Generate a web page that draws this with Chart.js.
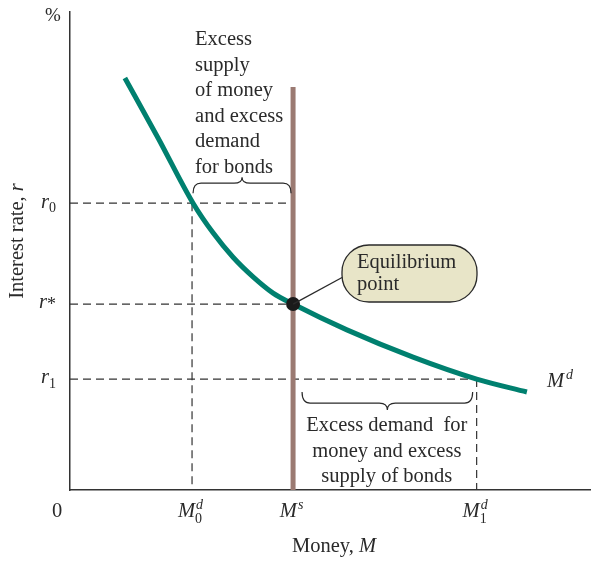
<!DOCTYPE html>
<html>
<head>
<meta charset="utf-8">
<script src="https://cdn.jsdelivr.net/npm/chart.js@4.4.0/dist/chart.umd.min.js"></script>
<style>
  html, body { margin: 0; padding: 0; background: #fff; overflow: hidden; }
  canvas { display: block; }
</style>
</head>
<body>
<canvas id="c" width="591" height="561"></canvas>
<script>
// ── Datos (unidades del gráfico, 0-100) ──
const xTickValues = [0, 23.8, 43.5, 79.3];       // 0, M0d, Ms, M1d
const xTickMain   = ['0', 'M', 'M', 'M'];
const xTickSup    = ['', 'd', 's', 'd'];
const xTickSub    = ['', '0', '', '1'];

const yTickValues = [60.0, 38.9, 23.2];          // r0, r*, r1
const yTickMain   = ['r', 'r', 'r'];
const yTickSuffix = ['0', '*', '1'];

// curva de demanda de dinero Md
const demandX = [10.7, 17.2, 24.0, 27.9, 31.8, 35.7, 39.6, 43.5, 54.0, 66.9, 79.3, 89.1];
const demandY = [86.2, 73.6, 60.0, 53.8, 48.7, 44.6, 41.2, 38.9, 33.5, 27.8, 23.2, 20.5];

// oferta de dinero Ms (vertical)
const supplyX = [43.5, 43.5];
const supplyY = [0, 84.3];

const FONT = '"Liberation Serif", "Times New Roman", serif';
const INK = '#2a2a2a';
const TEAL = '#00806f';
const BROWN = '#9b7a72';
const TXT = 20.5;

const pts = (xs, ys) => xs.map((x, i) => ({ x, y: ys[i] }));

const dashed = (data) => ({
  data, showLine: true, pointRadius: 0, borderColor: '#333',
  borderWidth: 1.2, borderDash: [8, 5], order: 6
});

const datasets = [
  // guías punteadas
  dashed([{ x: 0, y: yTickValues[0] }, { x: xTickValues[2], y: yTickValues[0] }]),
  dashed([{ x: xTickValues[1], y: yTickValues[0] }, { x: xTickValues[1], y: 0 }]),
  dashed([{ x: 0, y: yTickValues[1] }, { x: xTickValues[2], y: yTickValues[1] }]),
  dashed([{ x: 0, y: yTickValues[2] }, { x: xTickValues[3], y: yTickValues[2] }]),
  dashed([{ x: xTickValues[3], y: yTickValues[2] }, { x: xTickValues[3], y: 0 }]),
  {
    data: pts(supplyX, supplyY), showLine: true, pointRadius: 0,
    borderColor: BROWN, borderWidth: 5, order: 4
  },
  {
    data: pts(demandX, demandY), showLine: true, pointRadius: 0,
    borderColor: TEAL, borderWidth: 5, cubicInterpolationMode: 'monotone',
    borderCapStyle: 'butt', order: 3
  },
  {
    data: [{ x: xTickValues[2], y: yTickValues[1] }], pointRadius: 7,
    pointBackgroundColor: '#1a1a1a', pointBorderWidth: 0, order: 1
  }
];

function font(size, italic) {
  return (italic ? 'italic ' : '') + size + 'px ' + FONT;
}

// texto con estilos mezclados: [[texto, italic], ...]
function runs(ctx, parts, x, y, size, align) {
  let total = 0;
  parts.forEach(p => { ctx.font = font(size, p[1]); total += ctx.measureText(p[0]).width; });
  let cx = align === 'center' ? x - total / 2 : x;
  ctx.textAlign = 'left';
  ctx.textBaseline = 'middle';
  parts.forEach(p => {
    ctx.font = font(size, p[1]);
    ctx.fillText(p[0], cx, y);
    cx += ctx.measureText(p[0]).width;
  });
}

function lines(ctx, arr, x, y0, step, size, align) {
  ctx.font = font(size, false);
  ctx.textAlign = align;
  ctx.textBaseline = 'middle';
  arr.forEach((s, i) => ctx.fillText(s, x, y0 + i * step));
}

// llave horizontal (tips, cuerpo, pico)
function brace(ctx, x1, x2, yTip, yBody, yCusp) {
  const xm = (x1 + x2) / 2, r = 8;
  ctx.beginPath();
  ctx.moveTo(x1, yTip);
  ctx.quadraticCurveTo(x1, yBody, x1 + r, yBody);
  ctx.lineTo(xm - r, yBody);
  ctx.quadraticCurveTo(xm, yBody, xm, yCusp);
  ctx.quadraticCurveTo(xm, yBody, xm + r, yBody);
  ctx.lineTo(x2 - r, yBody);
  ctx.quadraticCurveTo(x2, yBody, x2, yTip);
  ctx.stroke();
}

const annotations = {
  id: 'annotations',
  afterDraw(chart) {
    const { ctx, scales: { x, y } } = chart;
    ctx.save();
    ctx.fillStyle = INK;
    ctx.strokeStyle = INK;

    // etiquetas eje x
    xTickValues.forEach((v, i) => {
      const px = x.getPixelForValue(v);
      const py = y.getPixelForValue(0) + 22;
      const italic = xTickMain[i] !== '0';
      ctx.font = font(TXT, italic);
      const wm = ctx.measureText(xTickMain[i]).width;
      ctx.font = font(14, true);
      const ws = Math.max(ctx.measureText(xTickSup[i]).width, ctx.measureText(xTickSub[i]).width);
      let sx = px - (wm + ws) / 2 - (i === 0 ? 13 : 2);
      ctx.textAlign = 'left';
      ctx.textBaseline = 'middle';
      ctx.font = font(TXT, italic);
      ctx.fillText(xTickMain[i], sx, py);
      ctx.font = font(14, true);
      ctx.fillText(xTickSup[i], sx + wm + 1, py - 7);
      ctx.font = font(14, false);
      ctx.fillText(xTickSub[i], sx + wm, py + 7);
    });

    // etiquetas eje y
    yTickValues.forEach((v, i) => {
      const py = y.getPixelForValue(v);
      const right = x.getPixelForValue(0) - 14;
      const suf = yTickSuffix[i];
      const sz = suf === '*' ? 18 : 14;
      ctx.font = font(sz, false);
      const ws = ctx.measureText(suf).width;
      ctx.textAlign = 'left';
      ctx.textBaseline = 'middle';
      ctx.fillText(suf, right - ws, suf === '*' ? py + 1 : py + 5);
      ctx.font = font(TXT, true);
      const wm = ctx.measureText(yTickMain[i]).width;
      ctx.fillText(yTickMain[i], right - ws - wm, py - 1);
    });

    // títulos de ejes
    runs(ctx, [['%', false]], 45, 16, 19, 'left');
    runs(ctx, [['Money, ', false], ['M', true]], 334, 547, TXT, 'center');
    ctx.save();
    ctx.translate(18, 241);
    ctx.rotate(-Math.PI / 2);
    runs(ctx, [['Interest rate, ', false], ['r', true]], 0, 0, TXT, 'center');
    ctx.restore();

    // etiqueta Md
    const lx = x.getPixelForValue(demandX[demandX.length - 1]) + 20;
    const ly = y.getPixelForValue(demandY[demandY.length - 1]) - 10;
    ctx.font = font(TXT, true);
    ctx.textAlign = 'left';
    ctx.fillText('M', lx, ly);
    ctx.font = font(14, true);
    ctx.fillText('d', lx + 19, ly - 7);

    // bloque superior
    const m0 = x.getPixelForValue(xTickValues[1]);
    const ms = x.getPixelForValue(xTickValues[2]);
    const m1 = x.getPixelForValue(xTickValues[3]);
    const r0 = y.getPixelForValue(yTickValues[0]);
    const r1 = y.getPixelForValue(yTickValues[2]);
    lines(ctx, ['Excess', 'supply', 'of money', 'and excess', 'demand', 'for bonds'],
      m0 + 3, 40, 25.5, TXT, 'left');
    ctx.lineWidth = 1.2;
    brace(ctx, m0 + 1, ms - 2, r0 - 10, r0 - 20, r0 - 26);

    // bloque inferior
    brace(ctx, ms + 9, m1 - 4, r1 + 13, r1 + 24, r1 + 31);
    lines(ctx, ['Excess demand  for', 'money and excess', 'supply of bonds'],
      (ms + m1) / 2 + 2, 426, 25.5, TXT, 'center');

    // globo "Equilibrium point"
    const ex = x.getPixelForValue(xTickValues[2]);
    const ey = y.getPixelForValue(yTickValues[1]);
    ctx.lineWidth = 1.3;
    ctx.beginPath();
    ctx.moveTo(ex, ey);
    ctx.lineTo(343, 277);
    ctx.stroke();
    ctx.beginPath();
    ctx.roundRect(342, 245, 135, 57, 27);
    ctx.fillStyle = '#e8e5c8';
    ctx.fill();
    ctx.stroke();
    ctx.fillStyle = INK;
    lines(ctx, ['Equilibrium', 'point'], 357, 263, 22, TXT, 'left');

    ctx.restore();
  }
};

new Chart(document.getElementById('c'), {
  type: 'scatter',
  data: { datasets },
  options: {
    responsive: false,
    animation: false,
    layout: { autoPadding: false, padding: { left: 70, right: 0, top: 12, bottom: 71 } },
    plugins: { legend: { display: false }, tooltip: { enabled: false } },
    elements: { line: { fill: false } },
    scales: {
      x: {
        type: 'linear', min: 0, max: 101.6,
        ticks: { display: false },
        grid: { display: false, drawTicks: false },
        border: { display: true, color: '#333', width: 1.5 }
      },
      y: {
        type: 'linear', min: 0, max: 100,
        ticks: { display: false },
        grid: { display: false, drawTicks: false },
        border: { display: true, color: '#333', width: 1.5 }
      }
    }
  },
  plugins: [annotations]
});
</script>
</body>
</html>
